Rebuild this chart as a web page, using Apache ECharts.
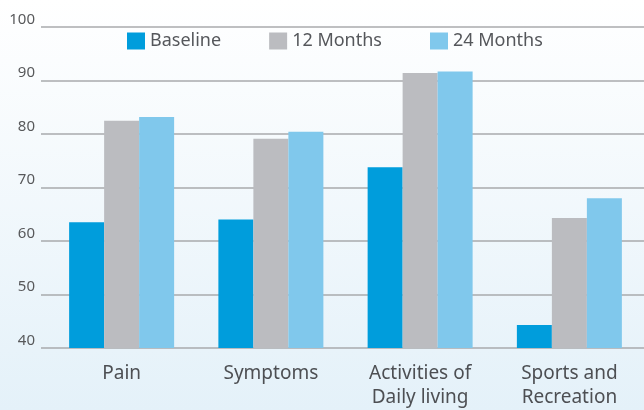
<!DOCTYPE html>
<html>
<head>
<meta charset="utf-8">
<script src="https://cdn.jsdelivr.net/npm/echarts@6/dist/echarts.min.js"></script>
<style>
  html, body { margin: 0; padding: 0; }
  #chart { width: 644px; height: 410px; }
</style>
</head>
<body>
<div id="chart"></div>
<script>
const categories = ['Pain', 'Symptoms', 'Activities of\nDaily living', 'Sports and\nRecreation']
const seriesNames = ['Baseline', '12 Months', '24 Months']
const baseline = [63.5, 64.0, 73.8, 44.3]
const months12 = [82.5, 79.1, 91.4, 64.3]
const months24 = [83.2, 80.4, 91.7, 68.0]
const colors = ['#009ddc', '#bbbcc0', '#80c8ec']

const font = 'Noto Sans'
const chart = echarts.init(document.getElementById('chart'))

const values = [baseline, months12, months24]

chart.setOption({
  animation: false,
  backgroundColor: new echarts.graphic.LinearGradient(0, 0, 0, 1, [
    { offset: 0, color: '#ffffff' },
    { offset: 1, color: '#e4f1f9' }
  ]),
  legend: {
    top: 27,
    left: 122,
    icon: 'rect',
    itemWidth: 18,
    itemHeight: 17,
    itemGap: 48,
    textStyle: { fontFamily: font, fontSize: 18, color: '#55575b' },
    data: seriesNames
  },
  grid: { left: 47, top: 27, width: 599, bottom: 61, containLabel: false },
  xAxis: {
    type: 'category',
    data: categories,
    axisLine: { show: false },
    axisTick: { show: false },
    axisLabel: {
      fontFamily: font, fontSize: 19, lineHeight: 24, color: '#4d4f53', margin: 14
    }
  },
  yAxis: {
    type: 'value',
    min: 40,
    max: 100,
    interval: 10,
    axisLine: { show: false },
    axisTick: { show: true, length: 6, lineStyle: { color: '#a8aaad', width: 1.5 } },
    splitLine: { lineStyle: { color: '#a8aaad', width: 1.5 } },
    axisLabel: {
      fontFamily: font, fontSize: 15, color: '#58595b', margin: 12,
      verticalAlign: 'bottom'
    }
  },
  series: seriesNames.map((name, i) => ({
    name,
    type: 'bar',
    data: values[i],
    barWidth: 35,
    barGap: '0%',
    itemStyle: { color: colors[i] }
  }))
})
</script>
</body>
</html>
